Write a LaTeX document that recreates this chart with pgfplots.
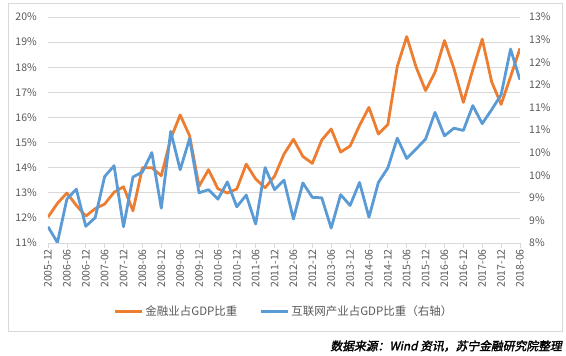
\documentclass[border=0pt]{standalone}
\usepackage{fontspec}
\setmainfont{Noto Sans CJK SC}
\newfontfamily\srcfont{Noto Sans CJK SC}[FakeSlant=0.2,FakeBold=2]
\usepackage{pgfplots}
\usepackage{pgfplotstable}
\pgfplotsset{compat=1.18}
\definecolor{forange}{HTML}{ED7D31}
\definecolor{iblue}{HTML}{5B9BD5}
\definecolor{gridc}{HTML}{D9D9D9}
\definecolor{labc}{HTML}{595959}

\pgfplotstableread{
i v
0 12.03
1 12.58
2 12.99
3 12.50
4 12.07
5 12.37
6 12.55
7 13.02
8 13.24
9 12.28
10 14.00
11 14.00
12 13.68
13 15.15
14 16.10
15 15.27
16 13.26
17 13.92
18 13.16
19 12.99
20 13.15
21 14.14
22 13.55
23 13.20
24 13.66
25 14.54
26 15.13
27 14.45
28 14.17
29 15.10
30 15.54
31 14.62
32 14.86
33 15.68
34 16.40
35 15.34
36 15.72
37 18.03
38 19.22
39 18.00
40 17.07
41 17.80
42 19.06
43 17.95
44 16.60
45 17.90
46 19.12
47 17.42
48 16.52
49 17.62
50 18.75
}\finance

\pgfplotstableread{
i v
0 8.36
1 8.01
2 8.97
3 9.19
4 8.37
5 8.56
6 9.47
7 9.71
8 8.36
9 9.46
10 9.57
11 10.00
12 8.77
13 10.47
14 9.62
15 10.31
16 9.11
17 9.18
18 8.97
19 9.35
20 8.80
21 9.06
22 8.42
23 9.67
24 9.18
25 9.39
26 8.53
27 9.33
28 9.01
29 9.00
30 8.33
31 9.07
32 8.83
33 9.34
34 8.57
35 9.34
36 9.66
37 10.32
38 9.87
39 10.08
40 10.30
41 10.89
42 10.37
43 10.54
44 10.49
45 11.04
46 10.64
47 10.95
48 11.28
49 12.29
50 11.61
}\internet

\begin{document}
\begin{tikzpicture}[x=1pt,y=1pt]
\useasboundingbox (-48,-113) rectangle (518,243);
\pgfplotsset{
  base/.style={
    scale only axis, width=472pt, height=226pt,
    at={(0pt,0pt)}, anchor=south west,
    xmin=0, xmax=50,
    tick label style={font=\fontsize{10.5}{12}\selectfont, text=labc},
  },
}
\begin{axis}[base,
  ymin=11, ymax=20,
  ytick={11,...,20},
  yticklabels={11\%,12\%,13\%,14\%,15\%,16\%,17\%,18\%,19\%,20\%},
  xtick={0,2,...,50},
  xticklabels={2005-12,2006-06,2006-12,2007-06,2007-12,2008-06,2008-12,2009-06,2009-12,2010-06,2010-12,2011-06,2011-12,2012-06,2012-12,2013-06,2013-12,2014-06,2014-12,2015-06,2015-12,2016-06,2016-12,2017-06,2017-12,2018-06},
  axis x line*=bottom, axis y line*=left,
  x axis line style={-, draw=gridc, line width=0.75pt},
  y axis line style={draw=none},
  ymajorgrids, grid style={gridc, line width=0.75pt},
  tick align=outside, major tick length=5pt,
  xtick style={draw=gridc, line width=0.75pt},
  ytick style={draw=none},
  xticklabel style={rotate=90, anchor=east, inner sep=1pt},
  yticklabel style={anchor=east, inner sep=1pt, xshift=-5pt},
  legend style={at={(0.5,-0.304)}, anchor=center, draw=none, fill=none,
    legend columns=2, font=\fontsize{11.5}{13}\selectfont, text=labc,
    /tikz/every even column/.append style={column sep=20pt},
    nodes={inner sep=2pt}},
  legend image code/.code={\draw[#1] (0pt,0pt) -- (27pt,0pt);},
]
\addplot[forange, line width=2.8pt, line join=round] table[x=i,y=v]{\finance};
\addlegendentry{金融业占GDP比重}
\addlegendimage{iblue, line width=2.8pt}
\addlegendentry{互联网产业占GDP比重（右轴）}
\end{axis}
\begin{axis}[base,
  ymin=8, ymax=13,
  ytick={8,8.5,...,13},
  yticklabels={8\%,9\%,9\%,10\%,10\%,11\%,11\%,12\%,12\%,13\%,13\%},
  axis x line=none, axis y line*=right,
  y axis line style={draw=none},
  ytick style={draw=none},
  yticklabel style={anchor=west, inner sep=1pt, xshift=8pt},
]
\addplot[iblue, line width=2.8pt, line join=round] table[x=i,y=v]{\internet};
\end{axis}
\draw[gridc, line width=0.75pt] (-40,240) rectangle (514,-88);
\node[anchor=east, font=\srcfont\fontsize{11.8}{13}\selectfont, text=black, inner sep=0pt] at (514,-103) {数据来源：Wind 资讯，苏宁金融研究院整理};
\end{tikzpicture}
\end{document}
